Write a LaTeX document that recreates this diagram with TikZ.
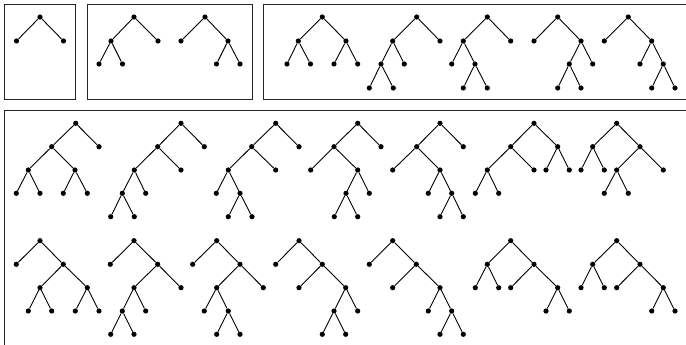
\documentclass[tikz,border=0pt]{standalone}
\begin{document}
\begin{tikzpicture}[x=1pt,y=-1pt,
  dot/.style={circle,fill=black,inner sep=0pt,minimum size=5.2pt},
  edge/.style={line width=0.9pt,black},
  frame/.style={line width=1pt,black!85}]
\useasboundingbox (0,0) rectangle (686,345);
\clip (0,0) rectangle (686,345);
\newcommand\dn[3]{\node[dot] (#1) at (#2,#3) {};}
\newcommand\ed[2]{\draw[edge] (#1) -- (#2);}
% frames
\draw[frame] (4.5,5) rectangle (75,99.3);
\draw[frame] (87.3,5) rectangle (252,99.3);
\draw[frame] (263.3,5) rectangle (692,99.3);
\draw[frame] (4.5,110.7) rectangle (692,352);
% levels
\def\A{17}\def\B{41}\def\C{64}\def\D{88}
% t1
\dn{a}{40}{\A}\dn{aL}{16.5}{\B}\dn{aR}{63.5}{\B}
\ed{a}{aL}\ed{a}{aR}
% t2
\dn{b}{134}{\A}\dn{bL}{111}{\B}\dn{bR}{158}{\B}\dn{bLL}{99}{\C}\dn{bLR}{122.5}{\C}
\ed{b}{bL}\ed{b}{bR}\ed{bL}{bLL}\ed{bL}{bLR}
% t3
\dn{c}{205}{\A}\dn{cL}{181}{\B}\dn{cR}{228}{\B}\dn{cRL}{216.5}{\C}\dn{cRR}{240}{\C}
\ed{c}{cL}\ed{c}{cR}\ed{cR}{cRL}\ed{cR}{cRR}
% t4
\dn{d}{322.3}{\A}\dn{dL}{298.3}{\B}\dn{dR}{346}{\B}\dn{dLL}{287}{\C}\dn{dLR}{310.5}{\C}\dn{dRL}{334}{\C}\dn{dRR}{357.7}{\C}
\ed{d}{dL}\ed{d}{dR}\ed{dL}{dLL}\ed{dL}{dLR}\ed{dR}{dRL}\ed{dR}{dRR}
% t5
\dn{e}{416.7}{\A}\dn{eL}{392.7}{\B}\dn{eR}{440}{\B}\dn{eLL}{381}{\C}\dn{eLR}{404.3}{\C}\dn{eLLL}{369.3}{\D}\dn{eLLR}{393.3}{\D}
\ed{e}{eL}\ed{e}{eR}\ed{eL}{eLL}\ed{eL}{eLR}\ed{eLL}{eLLL}\ed{eLL}{eLLR}
% t6
\dn{f}{487.3}{\A}\dn{fL}{463.3}{\B}\dn{fR}{510.7}{\B}\dn{fLL}{451.7}{\C}\dn{fLR}{475}{\C}\dn{fLRL}{463.3}{\D}\dn{fLRR}{487.3}{\D}
\ed{f}{fL}\ed{f}{fR}\ed{fL}{fLL}\ed{fL}{fLR}\ed{fLR}{fLRL}\ed{fLR}{fLRR}
% t7
\dn{g}{557.7}{\A}\dn{gL}{534}{\B}\dn{gR}{581}{\B}\dn{gRL}{569.3}{\C}\dn{gRR}{592.7}{\C}\dn{gRLL}{557.7}{\D}\dn{gRLR}{581}{\D}
\ed{g}{gL}\ed{g}{gR}\ed{gR}{gRL}\ed{gR}{gRR}\ed{gRL}{gRLL}\ed{gRL}{gRLR}
% t8
\dn{h}{628.3}{\A}\dn{hL}{604.3}{\B}\dn{hR}{651.7}{\B}\dn{hRL}{640}{\C}\dn{hRR}{663.3}{\C}\dn{hRRL}{651.7}{\D}\dn{hRRR}{675}{\D}
\ed{h}{hL}\ed{h}{hR}\ed{hR}{hRL}\ed{hR}{hRR}\ed{hRR}{hRRL}\ed{hRR}{hRRR}
% row 1 levels
\def\A{123.3}\def\B{146.7}\def\C{170}\def\D{193.3}\def\E{216.7}
% t9
\dn{i}{75.7}{\A}\dn{iL}{51.7}{\B}\dn{iR}{99}{\B}\dn{iLL}{28.3}{\C}\dn{iLR}{75}{\C}
\dn{iLLL}{16.3}{\D}\dn{iLLR}{40}{\D}\dn{iLRL}{63.3}{\D}\dn{iLRR}{87.3}{\D}
\ed{i}{iL}\ed{i}{iR}\ed{iL}{iLL}\ed{iL}{iLR}\ed{iLL}{iLLL}\ed{iLL}{iLLR}\ed{iLR}{iLRL}\ed{iLR}{iLRR}
% t10
\dn{j}{181}{\A}\dn{jL}{157.7}{\B}\dn{jR}{204.3}{\B}\dn{jLL}{134.3}{\C}\dn{jLR}{181}{\C}
\dn{jLLL}{122.3}{\D}\dn{jLLR}{145.7}{\D}\dn{jLLLL}{110.7}{\E}\dn{jLLLR}{134.3}{\E}
\ed{j}{jL}\ed{j}{jR}\ed{jL}{jLL}\ed{jL}{jLR}\ed{jLL}{jLLL}\ed{jLL}{jLLR}\ed{jLLL}{jLLLL}\ed{jLLL}{jLLLR}
% t11
\dn{k}{275.7}{\A}\dn{kL}{251.7}{\B}\dn{kR}{299}{\B}\dn{kLL}{228.3}{\C}\dn{kLR}{275.7}{\C}
\dn{kLLL}{216.3}{\D}\dn{kLLR}{240}{\D}\dn{kLLRL}{228.3}{\E}\dn{kLLRR}{252}{\E}
\ed{k}{kL}\ed{k}{kR}\ed{kL}{kLL}\ed{kL}{kLR}\ed{kLL}{kLLL}\ed{kLL}{kLLR}\ed{kLLR}{kLLRL}\ed{kLLR}{kLLRR}
% t12
\dn{l}{357.7}{\A}\dn{lL}{334}{\B}\dn{lR}{381}{\B}\dn{lLL}{310.7}{\C}\dn{lLR}{357.7}{\C}
\dn{lLRL}{346}{\D}\dn{lLRR}{369.3}{\D}\dn{lLRLL}{334.3}{\E}\dn{lLRLR}{357.7}{\E}
\ed{l}{lL}\ed{l}{lR}\ed{lL}{lLL}\ed{lL}{lLR}\ed{lLR}{lLRL}\ed{lLR}{lLRR}\ed{lLRL}{lLRLL}\ed{lLRL}{lLRLR}
% t13
\dn{m}{440}{\A}\dn{mL}{416.7}{\B}\dn{mR}{463.3}{\B}\dn{mLL}{392.7}{\C}\dn{mLR}{440}{\C}
\dn{mLRL}{428.3}{\D}\dn{mLRR}{451.7}{\D}\dn{mLRRL}{440}{\E}\dn{mLRRR}{463.3}{\E}
\ed{m}{mL}\ed{m}{mR}\ed{mL}{mLL}\ed{mL}{mLR}\ed{mLR}{mLRL}\ed{mLR}{mLRR}\ed{mLRR}{mLRRL}\ed{mLRR}{mLRRR}
% t14
\dn{n}{534}{\A}\dn{nL}{510.7}{\B}\dn{nR}{557.7}{\B}\dn{nLL}{487.3}{\C}\dn{nLR}{534}{\C}
\dn{nRL}{546}{\C}\dn{nRR}{569.3}{\C}\dn{nLLL}{475.3}{\D}\dn{nLLR}{498.7}{\D}
\ed{n}{nL}\ed{n}{nR}\ed{nL}{nLL}\ed{nL}{nLR}\ed{nR}{nRL}\ed{nR}{nRR}\ed{nLL}{nLLL}\ed{nLL}{nLLR}
% t15
\dn{o}{616.7}{\A}\dn{oL}{592.7}{\B}\dn{oR}{640}{\B}\dn{oLL}{581}{\C}\dn{oLR}{604.3}{\C}
\dn{oRL}{616.7}{\C}\dn{oRR}{663.3}{\C}\dn{oRLL}{604.3}{\D}\dn{oRLR}{628.3}{\D}
\ed{o}{oL}\ed{o}{oR}\ed{oL}{oLL}\ed{oL}{oLR}\ed{oR}{oRL}\ed{oR}{oRR}\ed{oRL}{oRLL}\ed{oRL}{oRLR}
% row 2 levels
\def\A{240.7}\def\B{264.3}\def\C{287.7}\def\D{311}\def\E{334.3}
% t16
\dn{p}{40}{\A}\dn{pL}{16.3}{\B}\dn{pR}{63.3}{\B}\dn{pRL}{40}{\C}\dn{pRR}{87.3}{\C}
\dn{pRLL}{28.3}{\D}\dn{pRLR}{51.7}{\D}\dn{pRRL}{75.3}{\D}\dn{pRRR}{99}{\D}
\ed{p}{pL}\ed{p}{pR}\ed{pR}{pRL}\ed{pR}{pRR}\ed{pRL}{pRLL}\ed{pRL}{pRLR}\ed{pRR}{pRRL}\ed{pRR}{pRRR}
% t17
\dn{q}{134}{\A}\dn{qL}{110.3}{\B}\dn{qR}{157.7}{\B}\dn{qRL}{134}{\C}\dn{qRR}{181}{\C}
\dn{qRLL}{122.3}{\D}\dn{qRLR}{145.7}{\D}\dn{qRLLL}{110.7}{\E}\dn{qRLLR}{134}{\E}
\ed{q}{qL}\ed{q}{qR}\ed{qR}{qRL}\ed{qR}{qRR}\ed{qRL}{qRLL}\ed{qRL}{qRLR}\ed{qRLL}{qRLLL}\ed{qRLL}{qRLLR}
% t18
\dn{r}{216.7}{\A}\dn{rL}{192.7}{\B}\dn{rR}{240}{\B}\dn{rRL}{216.7}{\C}\dn{rRR}{263.3}{\C}
\dn{rRLL}{204.3}{\D}\dn{rRLR}{228.3}{\D}\dn{rRLRL}{216.7}{\E}\dn{rRLRR}{240}{\E}
\ed{r}{rL}\ed{r}{rR}\ed{rR}{rRL}\ed{rR}{rRR}\ed{rRL}{rRLL}\ed{rRL}{rRLR}\ed{rRLR}{rRLRL}\ed{rRLR}{rRLRR}
% t19
\dn{s}{299}{\A}\dn{sL}{275.7}{\B}\dn{sR}{322.3}{\B}\dn{sRL}{299}{\C}\dn{sRR}{345.7}{\C}
\dn{sRRL}{334}{\D}\dn{sRRR}{357.7}{\D}\dn{sRRLL}{322.3}{\E}\dn{sRRLR}{345.7}{\E}
\ed{s}{sL}\ed{s}{sR}\ed{sR}{sRL}\ed{sR}{sRR}\ed{sRR}{sRRL}\ed{sRR}{sRRR}\ed{sRRL}{sRRLL}\ed{sRRL}{sRRLR}
% t20
\dn{t}{392.7}{\A}\dn{tL}{369.3}{\B}\dn{tR}{416.3}{\B}\dn{tRL}{392.7}{\C}\dn{tRR}{440}{\C}
\dn{tRRL}{428.3}{\D}\dn{tRRR}{451.7}{\D}\dn{tRRRL}{440}{\E}\dn{tRRRR}{463.3}{\E}
\ed{t}{tL}\ed{t}{tR}\ed{tR}{tRL}\ed{tR}{tRR}\ed{tRR}{tRRL}\ed{tRR}{tRRR}\ed{tRRR}{tRRRL}\ed{tRRR}{tRRRR}
% t21
\dn{u}{510.7}{\A}\dn{uL}{487.3}{\B}\dn{uR}{534}{\B}\dn{uLL}{475.3}{\C}\dn{uLR}{498.7}{\C}
\dn{uRL}{510.7}{\C}\dn{uRR}{557.7}{\C}\dn{uRRL}{546}{\D}\dn{uRRR}{569.3}{\D}
\ed{u}{uL}\ed{u}{uR}\ed{uL}{uLL}\ed{uL}{uLR}\ed{uR}{uRL}\ed{uR}{uRR}\ed{uRR}{uRRL}\ed{uRR}{uRRR}
% t22
\dn{v}{616.7}{\A}\dn{vL}{592.7}{\B}\dn{vR}{640}{\B}\dn{vLL}{581}{\C}\dn{vLR}{604.3}{\C}
\dn{vRL}{616.7}{\C}\dn{vRR}{663.3}{\C}\dn{vRRL}{651.7}{\D}\dn{vRRR}{675}{\D}
\ed{v}{vL}\ed{v}{vR}\ed{vL}{vLL}\ed{vL}{vLR}\ed{vR}{vRL}\ed{vR}{vRR}\ed{vRR}{vRRL}\ed{vRR}{vRRR}
\end{tikzpicture}
\end{document}
